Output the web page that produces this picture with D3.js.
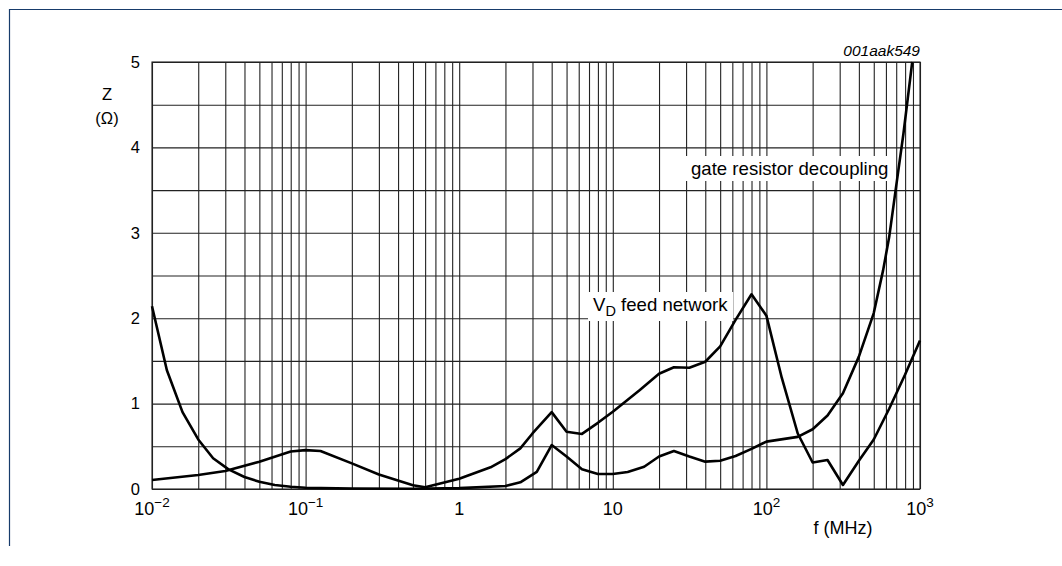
<!DOCTYPE html>
<html>
<head>
<meta charset="utf-8">
<script src="https://cdn.jsdelivr.net/npm/d3@7"></script>
<style>
  html, body { margin: 0; padding: 0; background: #fff; }
  svg { display: block; font-family: "Liberation Sans", Arial, Helvetica, sans-serif; }
</style>
</head>
<body>
<svg id="chart" width="1062" height="566"></svg>
<script>
// ---- data ----
const feedFreq = [0.01, 0.02, 0.03, 0.05, 0.08, 0.1, 0.125, 0.2, 0.3, 0.5, 0.6, 1.0, 1.6, 2.0, 2.5, 3.0, 4.0, 5.0, 6.3, 8.0, 10, 15, 20, 25, 31.5, 40, 50, 63, 80, 100, 126, 160, 200, 250, 315, 400, 500, 630, 800, 1000];
const feedZ    = [0.105, 0.164, 0.21, 0.32, 0.44, 0.455, 0.445, 0.30, 0.17, 0.045, 0.02, 0.12, 0.254, 0.35, 0.476, 0.65, 0.90, 0.67, 0.645, 0.775, 0.905, 1.16, 1.35, 1.425, 1.42, 1.49, 1.67, 1.98, 2.28, 2.03, 1.30, 0.65, 0.31, 0.34, 0.047, 0.33, 0.58, 0.94, 1.34, 1.74];

const gateFreq = [0.01, 0.0125, 0.0158, 0.02, 0.025, 0.0315, 0.04, 0.05, 0.063, 0.08, 0.1, 0.2, 0.5, 1, 2, 2.5, 3.2, 4, 5, 6.3, 8, 10, 12.5, 16, 20, 25, 31.5, 40, 50, 63, 80, 100, 160, 200, 250, 315, 400, 500, 575, 630, 700, 780, 890];
const gateZ    = [2.14, 1.39, 0.90, 0.58, 0.36, 0.23, 0.14, 0.085, 0.047, 0.027, 0.015, 0.005, 0.003, 0.01, 0.035, 0.078, 0.20, 0.515, 0.38, 0.23, 0.175, 0.175, 0.20, 0.26, 0.38, 0.445, 0.38, 0.32, 0.33, 0.386, 0.47, 0.555, 0.61, 0.70, 0.86, 1.12, 1.55, 2.06, 2.56, 2.95, 3.55, 4.16, 5.0];

const yTickValues = [0, 1, 2, 3, 4, 5];
const xTickValues = [0.01, 0.1, 1, 10, 100, 1000];
const xTickBase   = ["10", "10", "1", "10", "10", "10"];
const xTickExp    = ["−2", "−1", "", "", "2", "3"];

// ---- layout ----
const svg = d3.select("#chart");
const pL = 152, pR = 920, pT = 62, pB = 489;
const x = d3.scaleLog().domain([0.01, 1000]).range([pL, pR]);
const y = d3.scaleLinear().domain([0, 5]).range([pB, pT]);

// frame (top + left rule)
svg.append("line").attr("x1", 9).attr("x2", 1062).attr("y1", 9.5).attr("y2", 9.5)
  .attr("stroke", "#173b6b").attr("stroke-width", 1.2);
svg.append("line").attr("x1", 9.5).attr("x2", 9.5).attr("y1", 9).attr("y2", 546)
  .attr("stroke", "#173b6b").attr("stroke-width", 1.2);

// grid via axes
const minor = [];
for (let d = -2; d <= 2; d++) for (let k = 1; k <= 9; k++) minor.push(k * Math.pow(10, d));
minor.push(1000);
const gridX = svg.append("g").attr("transform", `translate(0,${pB})`)
  .call(d3.axisBottom(x).tickValues(minor).tickSize(-(pB - pT)).tickFormat(""));
const gridY = svg.append("g").attr("transform", `translate(${pL},0)`)
  .call(d3.axisLeft(y).tickValues(d3.range(0, 5.01, 0.5)).tickSize(-(pR - pL)).tickFormat(""));
[gridX, gridY].forEach(g => {
  g.select(".domain").remove();
  g.selectAll(".tick line").attr("stroke", "#222").attr("stroke-width", 1.1);
});
svg.append("rect").attr("x", pL).attr("y", pT).attr("width", pR - pL).attr("height", pB - pT)
  .attr("fill", "none").attr("stroke", "#222").attr("stroke-width", 1.1);

// y tick labels
const yAx = svg.append("g").attr("transform", `translate(${pL},0)`)
  .call(d3.axisLeft(y).tickValues(yTickValues).tickSize(0).tickPadding(12).tickFormat(d3.format("d")));
yAx.select(".domain").remove();
yAx.selectAll("text").attr("font-size", 16.5).attr("fill", "#000")
  .attr("font-family", "Liberation Sans, Arial, sans-serif");

// x tick labels
xTickValues.forEach((v, i) => {
  const t = svg.append("text").attr("x", x(v)).attr("y", 515).attr("text-anchor", "middle")
    .attr("font-size", 18).attr("fill", "#000");
  t.append("tspan").text(xTickBase[i]);
  if (xTickExp[i]) t.append("tspan").attr("dy", -8).attr("font-size", 13.5).text(xTickExp[i]);
});

// axis titles
svg.append("text").attr("x", 107).attr("y", 100).attr("text-anchor", "middle").attr("font-size", 16.5).text("Z");
svg.append("text").attr("x", 107).attr("y", 124).attr("text-anchor", "middle").attr("font-size", 16.5).text("(Ω)");
svg.append("text").attr("x", 843).attr("y", 534).attr("text-anchor", "middle").attr("font-size", 18).text("f (MHz)");
svg.append("text").attr("x", 920).attr("y", 56).attr("text-anchor", "end").attr("font-size", 15.5)
  .attr("font-style", "italic").text("001aak549");

// curves
const line = d3.line().x(d => x(d[0])).y(d => y(d[1]));
const series = [d3.zip(feedFreq, feedZ), d3.zip(gateFreq, gateZ)];
series.forEach(s => {
  svg.append("path").datum(s).attr("d", line).attr("fill", "none")
    .attr("stroke", "#000").attr("stroke-width", 2.6).attr("stroke-linejoin", "round");
});

// labels with white backgrounds
function label(xp, yp, build) {
  const g = svg.append("g");
  const bg = g.append("rect").attr("fill", "#fff");
  const t = g.append("text").attr("x", xp).attr("y", yp).attr("font-size", 18.6).attr("fill", "#000");
  build(t);
  const b = t.node().getBBox();
  bg.attr("x", b.x - 5).attr("y", b.y - 2).attr("width", b.width + 10).attr("height", b.height + 4);
}
label(691, 175, t => t.text("gate resistor decoupling"));
label(593, 311, t => {
  t.append("tspan").text("V");
  t.append("tspan").attr("dy", 5).attr("font-size", 14.5).text("D");
  t.append("tspan").attr("dy", -5).text(" feed network");
});
</script>
</body>
</html>
